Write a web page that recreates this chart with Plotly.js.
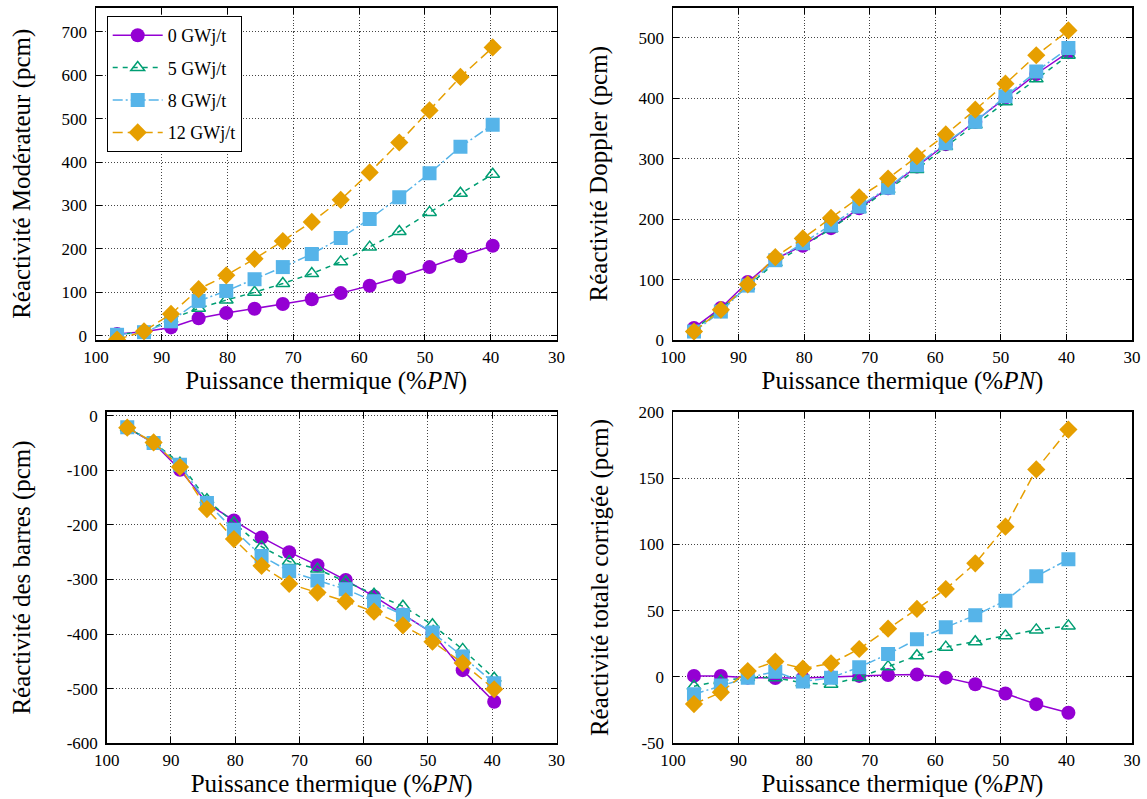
<!DOCTYPE html>
<html><head><meta charset="utf-8">
<script src="https://cdn.plot.ly/plotly-3.0.1.min.js"></script>
<style>body{margin:0;background:#fff}</style>
</head><body><div id="chart" style="width:1147px;height:799px"></div>
<script>
// ---- data ----
const puissance = [96.8, 92.7, 88.6, 84.4, 80.2, 75.9, 71.6, 67.2, 62.8, 58.4, 53.9, 49.3, 44.6, 39.7];
const seriesNames = ['0 GWj/t', '5 GWj/t', '8 GWj/t', '12 GWj/t'];

const moderateur_0  = [4, 9, 19, 40, 52, 62, 73, 84, 98, 115, 135, 158, 183, 207];
const moderateur_5  = [3, 8, 38, 63, 82, 100, 120, 143, 170, 204, 240, 284, 328, 372];
const moderateur_8  = [2, 8, 33, 80, 103, 130, 158, 188, 225, 269, 319, 374, 435, 486];
const moderateur_12 = [-9, 10, 50, 107, 139, 177, 218, 262, 313, 376, 445, 519, 596, 664];

const doppler_0  = [20, 53, 96, 134, 156, 185, 218, 251, 287, 324, 361, 401, 440, 476];
const doppler_5  = [17, 51, 89, 128, 155, 184, 216, 249, 282, 320, 356, 394, 432, 471];
const doppler_8  = [14, 47, 90, 132, 160, 190, 221, 252, 289, 326, 361, 403, 444, 483];
const doppler_12 = [14, 50, 92, 137, 168, 202, 236, 267, 304, 340, 381, 424, 471, 512];

const barres_0  = [-22, -50, -99, -160, -192, -223, -250, -274, -301, -331, -364, -398, -466, -524];
const barres_5  = [-22, -49, -87, -154, -196, -240, -267, -281, -304, -327, -349, -383, -428, -481];
const barres_8  = [-21, -50, -90, -160, -209, -257, -285, -302, -318, -340, -365, -397, -441, -490];
const barres_12 = [-22, -49, -94, -171, -226, -275, -308, -324, -340, -359, -384, -414, -453, -501];

const totale_0  = [0.8, 0.8, -0.5, -0.8, -0.8, 0, 0.8, 1.5, 1.8, -0.5, -5.5, -12.5, -20.5, -27];
const totale_5  = [-7, -3, -0.3, -0.5, -4.5, -5.5, -0.3, 7.8, 16, 22.5, 26.6, 31, 35.5, 38.5];
const totale_8  = [-13, -6.5, -0.5, 4, -3.5, -0.5, 7.3, 17.3, 28.4, 37.5, 46.5, 57.5, 75.9, 88.7];
const totale_12 = [-20.4, -11.6, 4.5, 11.6, 6.3, 10.3, 21.1, 36.4, 51.3, 66.3, 85.7, 113.3, 156.5, 186.5];

const xTicks = [100, 90, 80, 70, 60, 50, 40, 30];
const yTicksModerateur = [0, 100, 200, 300, 400, 500, 600, 700];
const yTicksDoppler = [0, 100, 200, 300, 400, 500];
const yTicksBarres = [0, -100, -200, -300, -400, -500, -600];
const yTicksTotale = [-50, 0, 50, 100, 150, 200];

const yTitles = ['Réactivité Modérateur (pcm)', 'Réactivité Doppler (pcm)',
                 'Réactivité des barres (pcm)', 'Réactivité totale corrigée (pcm)'];
const xTitle = 'Puissance thermique (%<i>PN</i>)';

// ---- styles ----
const FONT = 'Liberation Serif';
const styles = [
  {color: '#9400d3', symbol: 'circle', size: 14, dash: 'solid'},
  {color: '#009e73', symbol: 'triangle-up-open', size: 12, dash: '5px,5px'},
  {color: '#56b4e9', symbol: 'square', size: 14, dash: '10px,3px,2px,3px'},
  {color: '#e69f00', symbol: 'diamond', size: 14, dash: '10px,5px'}
];

const panels = [
  {ys: [moderateur_0, moderateur_5, moderateur_8, moderateur_12], xa: 'x', ya: 'y'},
  {ys: [doppler_0, doppler_5, doppler_8, doppler_12], xa: 'x2', ya: 'y2'},
  {ys: [barres_0, barres_5, barres_8, barres_12], xa: 'x3', ya: 'y3'},
  {ys: [totale_0, totale_5, totale_8, totale_12], xa: 'x4', ya: 'y4'}
];

const traces = [];
panels.forEach((p, pi) => {
  p.ys.forEach((y, si) => {
    const s = styles[si];
    traces.push({
      type: 'scatter', mode: 'lines+markers',
      x: puissance, y: y, xaxis: p.xa, yaxis: p.ya,
      name: seriesNames[si], legendgroup: 'g' + si, showlegend: pi === 0,
      line: {color: s.color, width: 1.5, dash: s.dash},
      marker: {symbol: s.symbol, size: s.size, color: s.color,
               line: {color: s.color, width: s.symbol.endsWith('open') ? 1.5 : 0}}
    });
  });
});

const W = 1147, H = 799;
function xdom(l, r) { return [l / W, r / W]; }
function ydom(t, b) { return [(H - b) / H, (H - t) / H]; }

const GRID = {showgrid: true, gridcolor: '#444', griddash: '1px,2px', gridwidth: 1};

function xaxis(dom, anchor) {
  return Object.assign({
    domain: dom, anchor: anchor, range: [100, 30], autorange: false,
    tickvals: xTicks, ticktext: xTicks.map(String),
    ticks: 'inside', ticklen: 6, tickwidth: 1, tickcolor: '#000',
    showline: true, linecolor: '#000', linewidth: 1.5, mirror: 'ticks',
    zeroline: false, automargin: false,
    tickfont: {family: FONT, size: 17, color: '#000'},
    ticklabelstandoff: 1,
    title: {text: xTitle, font: {family: FONT, size: 25, color: '#000'}, standoff: 1}
  }, GRID);
}
function yaxis(dom, anchor, range, ticks, title, standoff) {
  return Object.assign({
    domain: dom, anchor: anchor, range: range, autorange: false,
    tickvals: ticks, ticktext: ticks.map(String),
    ticks: 'inside', ticklen: 6, tickwidth: 1, tickcolor: '#000',
    showline: true, linecolor: '#000', linewidth: 1.5, mirror: 'ticks',
    zeroline: false, automargin: false,
    tickfont: {family: FONT, size: 17, color: '#000'},
    ticklabelstandoff: 4,
    title: {text: title, font: {family: FONT, size: 25, color: '#000'}, standoff: standoff}
  }, GRID);
}

const layout = {
  width: W, height: H,
  margin: {l: 0, r: 0, t: 0, b: 0},
  paper_bgcolor: '#fff', plot_bgcolor: '#fff',
  font: {family: FONT, color: '#000'},
  showlegend: true,
  legend: {
    x: 106.7 / W, y: (H - 16) / H, xanchor: 'left', yanchor: 'top',
    bgcolor: '#fff', bordercolor: '#000', borderwidth: 1,
    font: {family: FONT, size: 18, color: '#000'},
    tracegroupgap: 6, itemwidth: 50
  },
  xaxis:  xaxis(xdom(96, 556.5), 'y'),
  yaxis:  yaxis(ydom(7.5, 340), 'x', [-10, 756], yTicksModerateur, yTitles[0], 24),
  xaxis2: xaxis(xdom(673, 1132), 'y2'),
  yaxis2: yaxis(ydom(7.5, 340), 'x2', [0, 550], yTicksDoppler, yTitles[1], 24),
  xaxis3: xaxis(xdom(106.7, 556.5), 'y3'),
  yaxis3: yaxis(ydom(411.7, 743.3), 'x3', [-600, 7.3], yTicksBarres, yTitles[2], 29),
  xaxis4: xaxis(xdom(673, 1132), 'y4'),
  yaxis4: yaxis(ydom(411.7, 743.3), 'x4', [-50, 200], yTicksTotale, yTitles[3], 23)
};

Plotly.newPlot('chart', traces, layout, {displayModeBar: false, staticPlot: true});
</script>
</body></html>
